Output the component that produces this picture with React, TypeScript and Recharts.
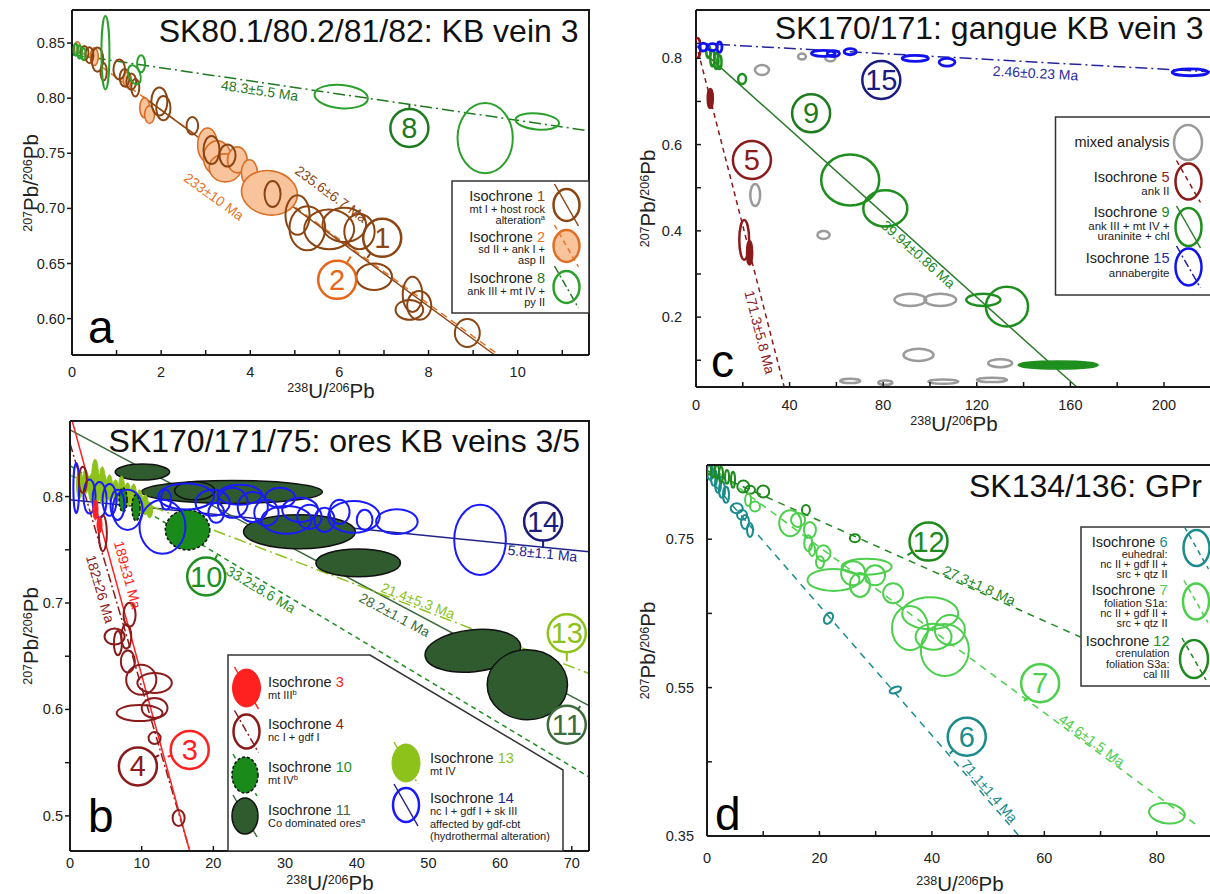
import React from 'react';
import { ScatterChart, Scatter, XAxis, YAxis, ReferenceLine, ReferenceDot } from 'recharts';

const FONT = '"Liberation Sans", Arial, Helvetica, sans-serif';
const INK = '#1a1a1a';

// decay constants (1/yr) and 238U/235U, used to put each isochrone's lower end on concordia
const L238 = 1.55125e-10;
const L235 = 9.8485e-10;
const U_RATIO = 137.818;

type Ell = [number, number, number, number, number?]; // x, y, half-width (x units), half-height (y units), tilt deg
type Iso = { n: number; y0: number; age: number; err: number; from?: number; to?: number };
type Tag = { n: number; at: number; off: number };
type Badge = { n: number; x: number; y: number; tick?: [number, number] };

// ---------- a: SK80.1/80.2/81/82 ----------
const aXTicks = [0, 1, 2, 3, 4, 5, 6, 7, 8, 9, 10, 11];
const aXLabels = [0, 2, 4, 6, 8, 10];
const aYTicks = [0.6, 0.65, 0.7, 0.75, 0.8, 0.85];

const aOrange2: Ell[] = [
  [0.12, 0.8457, 0.07, 0.0055], [0.5, 0.8376, 0.09, 0.008], [1.24, 0.8167, 0.09, 0.0073],
  [1.63, 0.7913, 0.11, 0.009], [1.74, 0.785, 0.11, 0.008], [3.04, 0.7576, 0.22, 0.0154],
  [3.26, 0.7459, 0.31, 0.0154], [3.44, 0.7368, 0.36, 0.0127], [3.71, 0.744, 0.22, 0.0118],
  [3.98, 0.7323, 0.18, 0.0118], [4.16, 0.7214, 0.22, 0.011], [4.43, 0.7141, 0.63, 0.02, 10],
];
const aBrown1: Ell[] = [
  [0.28, 0.841, 0.09, 0.0064], [0.39, 0.839, 0.09, 0.0073], [0.57, 0.835, 0.13, 0.011],
  [0.71, 0.824, 0.07, 0.008], [1.06, 0.826, 0.13, 0.009], [1.18, 0.8185, 0.11, 0.008],
  [1.33, 0.815, 0.11, 0.0073], [1.42, 0.8095, 0.09, 0.008], [1.96, 0.797, 0.18, 0.0127],
  [2.05, 0.791, 0.16, 0.011], [2.7, 0.775, 0.13, 0.008], [3.13, 0.753, 0.18, 0.0127],
  [3.49, 0.748, 0.18, 0.01], [4.5, 0.713, 0.18, 0.0118], [5.06, 0.694, 0.27, 0.018],
  [5.28, 0.682, 0.4, 0.02], [5.77, 0.681, 0.56, 0.018], [6.11, 0.685, 0.49, 0.0155],
  [6.45, 0.679, 0.34, 0.016], [6.78, 0.638, 0.4, 0.012], [7.64, 0.622, 0.22, 0.016],
  [7.79, 0.612, 0.27, 0.013], [7.57, 0.608, 0.31, 0.009], [8.87, 0.587, 0.28, 0.0127],
];
const aGreen8: Ell[] = [
  [0.08, 0.844, 0.045, 0.0055], [0.17, 0.842, 0.045, 0.006], [0.26, 0.84, 0.045, 0.0055],
  [0.75, 0.8412, 0.09, 0.0333], [1.4, 0.8212, 0.13, 0.009, -20], [1.55, 0.8312, 0.09, 0.0077],
  [6.04, 0.8015, 0.6, 0.0106, 5], [9.27, 0.7638, 0.62, 0.0318], [10.44, 0.7789, 0.49, 0.0073, 5],
];
const aIsos: Iso[] = [
  { n: 2, y0: 0.848, age: 233, err: 10 },
  { n: 1, y0: 0.8487, age: 235.6, err: 6.7, from: 1.6 },
  { n: 8, y0: 0.8395, age: 48.3, err: 5.5 },
];
const aTags: Tag[] = [
  { n: 8, at: 4.24, off: 8 },
  { n: 1, at: 5.38, off: -33 },
  { n: 2, at: 3.7, off: 39 },
];
const aBadges: Badge[] = [
  { n: 8, x: 7.57, y: 0.7729, tick: [-90, 5] },
  { n: 1, x: 6.96, y: 0.6733, tick: [127, 6] },
  { n: 2, x: 5.95, y: 0.6352, tick: [-60, 8] },
];

// ---------- c: SK170/171 gangue ----------
const cXTicks = [0, 20, 40, 60, 80, 100, 120, 140, 160, 180, 200, 220];
const cXLabels = [0, 40, 80, 120, 160, 200];
const cYTicks = [0.1, 0.2, 0.3, 0.4, 0.5, 0.6, 0.7, 0.8];
const cYLabels = [0.2, 0.4, 0.6, 0.8];

const cMixed: Ell[] = [
  [28.2, 0.773, 3.0, 0.0116], [45.3, 0.804, 1.7, 0.007], [57.4, 0.8, 2.1, 0.007],
  [25.3, 0.483, 2.1, 0.0255], [54.5, 0.3905, 2.6, 0.0093], [91.6, 0.24, 6.8, 0.014],
  [104.4, 0.24, 6.8, 0.014], [95.1, 0.1124, 6.4, 0.014], [130, 0.0932, 5.1, 0.0093],
  [105.7, 0.0505, 6.4, 0.005], [126.5, 0.0545, 6.4, 0.005], [65.9, 0.052, 4.3, 0.005],
  [80.9, 0.048, 3.0, 0.005],
];
const cRed5: Ell[] = [[0.6, 0.824, 1.3, 0.023], [20.6, 0.379, 2.1, 0.046]];
const cRed5Solid: Ell[] = [[6.1, 0.707, 1.3, 0.023], [22.9, 0.349, 1.3, 0.028]];
const cGreen9: Ell[] = [
  [5.3, 0.815, 0.9, 0.014], [7.0, 0.8, 0.9, 0.019], [8.7, 0.794, 0.9, 0.019],
  [10.0, 0.791, 0.9, 0.016], [19.7, 0.752, 1.7, 0.0116], [65.9, 0.518, 12.4, 0.059],
  [80.9, 0.452, 9.4, 0.042], [122.8, 0.24, 7.3, 0.014], [132.9, 0.2243, 9.0, 0.046],
];
const cGreen9Solid: Ell[] = [[154.8, 0.0892, 17.1, 0.0093]];
const cBlue15: Ell[] = [
  [3.1, 0.826, 1.7, 0.009], [7.0, 0.826, 2.1, 0.008], [10.0, 0.826, 1.1, 0.012],
  [54.4, 0.8116, 5.1, 0.007], [58.7, 0.811, 2.6, 0.007], [65.9, 0.8153, 2.6, 0.007],
  [93.7, 0.8, 5.6, 0.007], [107.3, 0.7907, 3.4, 0.009], [211.2, 0.7676, 7.7, 0.008],
];
const cIsos: Iso[] = [
  { n: 15, y0: 0.835, age: 2.46, err: 0.23 },
  { n: 9, y0: 0.83, age: 39.94, err: 0.86, from: 5 },
  { n: 5, y0: 0.835, age: 171.3, err: 5.8 },
];
const cTags: Tag[] = [
  { n: 15, at: 145.4, off: 11 },
  { n: 9, at: 97, off: 7 },
  { n: 5, at: 31.4, off: 10 },
];
const cBadges: Badge[] = [
  { n: 15, x: 79.2, y: 0.7497 },
  { n: 9, x: 49.2, y: 0.6725 },
  { n: 5, x: 23.9, y: 0.5643 },
];

// ---------- b: SK170/171/75 ores ----------
const bXTicks = [0, 10, 20, 30, 40, 50, 60, 70];
const bYTicks = [0.5, 0.55, 0.6, 0.65, 0.7, 0.75, 0.8];
const bYLabels = [0.5, 0.6, 0.7, 0.8];

const bDark11: Ell[] = [
  [10.1, 0.823, 3.8, 0.0075], [22.6, 0.8044, 12.6, 0.0108], [17.4, 0.8054, 2.8, 0.0085],
  [32.0, 0.7669, 7.8, 0.016], [40.2, 0.7377, 5.9, 0.0131], [56.2, 0.6551, 6.7, 0.0197, -6],
  [63.8, 0.6232, 5.6, 0.0329],
];
const bLime13: Ell[] = [
  [1.33, 0.811, 0.42, 0.013], [2.16, 0.8138, 0.42, 0.0113], [3.0, 0.8082, 0.42, 0.013],
  [3.5, 0.815, 0.5, 0.02], [3.84, 0.8063, 0.42, 0.0113], [4.5, 0.81, 0.45, 0.018],
  [4.68, 0.812, 0.42, 0.0094], [5.52, 0.8082, 0.42, 0.0122], [6.35, 0.8044, 0.42, 0.0113],
  [7.19, 0.8063, 0.42, 0.013], [8.03, 0.8016, 0.42, 0.0113], [8.87, 0.7988, 0.42, 0.013],
  [9.71, 0.795, 0.42, 0.0113], [10.5, 0.7922, 0.42, 0.0094], [11.1, 0.7875, 0.42, 0.0075],
];
const bGreen10: Ell[] = [[16.4, 0.7687, 3.1, 0.0188], [9.2, 0.7894, 0.56, 0.0122], [7.4, 0.7969, 0.56, 0.0113]];
const bBlue14: Ell[] = [
  [0.87, 0.808, 0.4, 0.0235], [2.72, 0.8, 0.84, 0.016], [4.12, 0.7969, 0.98, 0.0169],
  [5.52, 0.7969, 0.98, 0.015], [6.63, 0.7922, 0.98, 0.0141], [8.03, 0.7875, 2.1, 0.0188],
  [12.9, 0.7716, 3.2, 0.0254], [13.4, 0.7969, 0.7, 0.0094], [16.2, 0.8, 3.9, 0.0122],
  [19.9, 0.7941, 2.4, 0.0122], [22.7, 0.7941, 2.1, 0.0141], [20.4, 0.7847, 1.1, 0.0094],
  [25.5, 0.7903, 2.1, 0.0141], [27.4, 0.7847, 1.7, 0.0122], [30.2, 0.7781, 3.5, 0.0131],
  [33.4, 0.7809, 1.7, 0.0113], [35.5, 0.7781, 1.4, 0.0113], [39.6, 0.7809, 3.6, 0.015],
  [45.6, 0.7765, 2.9, 0.0117], [57.2, 0.7593, 3.6, 0.0329], [23.7, 0.8016, 3.1, 0.0094],
  [29.3, 0.7988, 2.1, 0.0094], [32.1, 0.7875, 2.5, 0.0113], [37.6, 0.7856, 1.4, 0.0113],
  [41.1, 0.7781, 1.1, 0.0094],
];
const bRed4: Ell[] = [
  [1.79, 0.8157, 0.56, 0.0122], [4.58, 0.7656, 0.56, 0.0169], [8.31, 0.6889, 0.84, 0.0113],
  [6.22, 0.6685, 1.4, 0.0075], [6.68, 0.6623, 0.56, 0.0113], [7.85, 0.6685, 0.7, 0.0113],
  [8.07, 0.6451, 0.98, 0.0103], [9.94, 0.6279, 2.1, 0.0141], [11.8, 0.6248, 2.4, 0.0094],
  [11.8, 0.6013, 1.8, 0.0094], [9.71, 0.5966, 3.2, 0.0075], [11.8, 0.5731, 0.84, 0.0056],
  [15.15, 0.498, 0.84, 0.0075],
];
const bRed3: Ell[] = [[3.56, 0.7875, 0.35, 0.0094], [4.12, 0.7734, 0.35, 0.0075]];
const bIsos: Iso[] = [
  { n: 14, y0: 0.797, age: 5.8, err: 1.1 },
  { n: 11, y0: 0.8626, age: 28.2, err: 1.1 },
  { n: 13, y0: 0.82, age: 21.4, err: 5.3 },
  { n: 10, y0: 0.829, age: 33.2, err: 8.6 },
  { n: 4, y0: 0.85, age: 182, err: 26 },
  { n: 3, y0: 0.8786, age: 189, err: 31 },
];
const bTags: Tag[] = [
  { n: 3, at: 6.3, off: -13 },
  { n: 4, at: 5.83, off: 12 },
  { n: 10, at: 27.2, off: 8 },
  { n: 11, at: 46, off: 11 },
  { n: 13, at: 48.2, off: -7 },
  { n: 14, at: 66, off: 6 },
];
const bBadges: Badge[] = [
  { n: 10, x: 19.0, y: 0.7249, tick: [-63, 5] },
  { n: 14, x: 66.0, y: 0.7765, tick: [90, 7] },
  { n: 13, x: 69.3, y: 0.6717, tick: [90, 9] },
  { n: 11, x: 69.3, y: 0.5856, tick: [-54, 4] },
  { n: 4, x: 9.47, y: 0.5465, tick: [-28, 5] },
  { n: 3, x: 16.7, y: 0.562, tick: [163, 4] },
];

// ---------- d: SK134/136 GPr ----------
const dXTicks = [0, 10, 20, 30, 40, 50, 60, 70, 80, 90];
const dXLabels = [0, 20, 40, 60, 80];
const dYTicks = [0.35, 0.45, 0.55, 0.65, 0.75];
const dYLabels = [0.35, 0.55, 0.75];

const dTeal6: Ell[] = [
  [0.53, 0.8408, 0.53, 0.0108], [1.25, 0.8327, 0.53, 0.0108], [1.96, 0.8246, 0.53, 0.012],
  [2.67, 0.8165, 0.53, 0.0108], [3.38, 0.8098, 0.53, 0.0108], [5.28, 0.7918, 1.07, 0.0067],
  [6.23, 0.7828, 0.89, 0.0067], [6.76, 0.7733, 0.71, 0.0094], [7.65, 0.7625, 0.53, 0.0094],
  [21.6, 0.6435, 0.71, 0.0081, 30], [33.5, 0.5468, 1.07, 0.004, -20],
];
const dGreen12: Ell[] = [
  [0.36, 0.8462, 0.36, 0.0094], [1.07, 0.8435, 0.36, 0.0108], [1.78, 0.8408, 0.36, 0.0094],
  [2.49, 0.8367, 0.36, 0.0108], [3.56, 0.834, 0.36, 0.0094], [4.63, 0.83, 0.36, 0.0108],
  [6.46, 0.8209, 1.07, 0.0081], [7.65, 0.8165, 0.89, 0.0054], [10.0, 0.8142, 1.07, 0.0081],
  [17.6, 0.7895, 0.71, 0.0067], [26.3, 0.7513, 0.89, 0.0054],
];
const dLight7: Ell[] = [
  [7.3, 0.803, 0.53, 0.0081], [8.54, 0.794, 0.89, 0.0067], [14.8, 0.7716, 1.96, 0.0175],
  [16.2, 0.776, 1.25, 0.0094], [18.3, 0.7625, 1.07, 0.0108], [18.0, 0.7446, 0.71, 0.0108],
  [18.7, 0.7356, 0.53, 0.0081], [20.7, 0.7311, 1.25, 0.0108], [20.1, 0.719, 0.71, 0.0081],
  [28.4, 0.713, 4.45, 0.0108], [22.5, 0.6951, 4.63, 0.0148], [26.0, 0.7041, 2.14, 0.0162],
  [29.9, 0.7014, 1.78, 0.0135], [27.2, 0.6884, 1.78, 0.0162], [33.1, 0.6772, 1.78, 0.0135],
  [39.7, 0.65, 4.98, 0.0216], [40.3, 0.6186, 3.2, 0.0175], [42.3, 0.6007, 4.27, 0.0351],
  [36.1, 0.6304, 3.2, 0.0297], [43.2, 0.6277, 2.67, 0.0202], [81.8, 0.3805, 3.2, 0.0135, 8],
];
const dIsos: Iso[] = [
  { n: 12, y0: 0.8425, age: 27.3, err: 1.8, to: 66.4 },
  { n: 7, y0: 0.851, age: 44.6, err: 1.5, to: 87.4 },
  { n: 6, y0: 0.835, age: 71.1, err: 1.4 },
];
const dTags: Tag[] = [
  { n: 12, at: 48, off: -6 },
  { n: 7, at: 67.8, off: -6 },
  { n: 6, at: 49.3, off: -7 },
];
const dBadges: Badge[] = [
  { n: 12, x: 39.4, y: 0.7468, tick: [147, 6] },
  { n: 7, x: 59.25, y: 0.5558, tick: [132, 5] },
  { n: 6, x: 46.2, y: 0.4838, tick: [135, 5] },
];

// line / label / badge colours per isochrone number
const COL: Record<number, { line: string; dash?: string; text: string; badge: string }> = {
  1: { line: '#8b4513', text: '#8b4513', badge: '#8b4513' },
  2: { line: '#e8742a', dash: '7 5', text: '#e8742a', badge: '#e8661a' },
  8: { line: '#1f7a1f', dash: '12 4 2 4', text: '#1f7a1f', badge: '#1f7a1f' },
  5: { line: '#8b1a1a', dash: '5 4', text: '#8b1a1a', badge: '#8b1a1a' },
  9: { line: '#2a7a2a', text: '#1e8a1e', badge: '#1e7a1e' },
  15: { line: '#24249a', dash: '12 4 2 4', text: '#2b2ba0', badge: '#1a1a80' },
  3: { line: '#ff2020', text: '#ff2020', badge: '#ff2020' },
  4: { line: '#8b1a1a', dash: '9 3 2 3', text: '#8b1a1a', badge: '#8b1a1a' },
  10: { line: '#1f8f1f', dash: '5 4', text: '#1f8f1f', badge: '#1f8f1f' },
  11: { line: '#3d6b3d', text: '#3d6b3d', badge: '#3d6b3d' },
  13: { line: '#8cc21a', dash: '12 4 2 4', text: '#8cc21a', badge: '#8cc21a' },
  14: { line: '#22228c', text: '#22228c', badge: '#1c1c7c' },
  6: { line: '#1a8c8c', dash: '7 6', text: '#1a8c8c', badge: '#1a8c8c' },
  7: { line: '#4ccf4c', dash: '7 6', text: '#4ccf4c', badge: '#4ccf4c' },
  12: { line: '#1e8a1e', dash: '7 6', text: '#1e8a1e', badge: '#1e8a1e' },
};

type EllStyle = { stroke: string; fill?: string; sw?: number; dash?: string };

function concordia(ageMa: number) {
  const t = ageMa * 1e6;
  const e8 = Math.exp(L238 * t) - 1;
  const e5 = Math.exp(L235 * t) - 1;
  return { x: 1 / e8, y: e5 / (U_RATIO * e8) };
}

const toPts = (list: Ell[]) => list.map(([x, y, ex, ey, tilt = 0]) => ({ x, y, ex, ey, tilt }));

function EllipseMark({ cx, cy, payload, kx, ky, st }: any) {
  if (cx == null || cy == null) return null;
  return (
    <ellipse
      cx={cx}
      cy={cy}
      rx={payload.ex * kx}
      ry={payload.ey * ky}
      transform={payload.tilt ? `rotate(${payload.tilt} ${cx} ${cy})` : undefined}
      fill={st.fill || 'none'}
      stroke={st.stroke}
      strokeWidth={st.sw ?? 2}
      strokeDasharray={st.dash}
    />
  );
}

function XTick({ x, y, payload, major, dy }: any) {
  const v = payload.value;
  return (
    <g>
      <line x1={x} x2={x} y1={y} y2={y - 5} stroke={INK} strokeWidth={1.5} />
      {major.includes(v) && (
        <text x={x} y={y + dy} textAnchor="middle" fontSize={14.5} fontFamily={FONT} fill="#222">
          {v}
        </text>
      )}
    </g>
  );
}

function YTick({ x, y, payload, major, digits, out, gap }: any) {
  const v = payload.value;
  return (
    <g>
      <line x1={x} x2={out ? x - 5 : x + 5} y1={y} y2={y} stroke={INK} strokeWidth={1.5} />
      {major.includes(v) && (
        <text x={x - gap} y={y + 5} textAnchor="end" fontSize={14.5} fontFamily={FONT} fill="#222">
          {v.toFixed(digits)}
        </text>
      )}
    </g>
  );
}

function AgeTag({ cx, cy, ang, off, text, color }: any) {
  const r = (ang * Math.PI) / 180;
  const x = cx - Math.sin(r) * off;
  const y = cy + Math.cos(r) * off;
  return (
    <text x={x} y={y} transform={`rotate(${ang} ${x} ${y})`} textAnchor="middle" dominantBaseline="central"
      fontSize={14} fontFamily={FONT} fill={color}>
      {text}
    </text>
  );
}

function BadgeMark({ cx, cy, n, color, tick }: any) {
  const R = 19;
  let tl = null;
  if (tick) {
    const a = (tick[0] * Math.PI) / 180;
    tl = (
      <line x1={cx + R * Math.cos(a)} y1={cy + R * Math.sin(a)} x2={cx + (R + tick[1]) * Math.cos(a)}
        y2={cy + (R + tick[1]) * Math.sin(a)} stroke={color} strokeWidth={2} />
    );
  }
  return (
    <g>
      {tl}
      <circle cx={cx} cy={cy} r={R} fill="none" stroke={color} strokeWidth={2.5} />
      <text x={cx} y={cy + 10} textAnchor="middle" fontSize={29} fontFamily={FONT} fill={color}>{n}</text>
    </g>
  );
}

function Panel({ cfg }: { cfg: any }) {
  const { left, top, width, height, mt, mr, yw, xh, xDom, yDom } = cfg;
  const kx = (width - yw - mr) / (xDom[1] - xDom[0]);
  const ky = (height - mt - xh) / (yDom[1] - yDom[0]);

  const lines = cfg.isos.map((iso: Iso) => {
    const c = concordia(iso.age);
    const m = (c.y - iso.y0) / c.x;
    const xa = Math.max(iso.from ?? xDom[0], (yDom[1] - iso.y0) / m);
    const xb = Math.min(iso.to ?? xDom[1], xDom[1], (yDom[0] - iso.y0) / m);
    return { ...iso, m, xa, xb };
  });
  const lineOf = (n: number) => lines.find((l: any) => l.n === n);

  return (
    <div style={{ position: 'absolute', left, top }}>
      <ScatterChart width={width} height={height} margin={{ top: mt, right: mr, bottom: 0, left: 0 }}>
        <XAxis type="number" dataKey="x" domain={xDom} allowDataOverflow ticks={cfg.xTicks} interval={0}
          height={xh} tickSize={0} tickMargin={0} tickLine={false}
          axisLine={{ stroke: INK, strokeWidth: 2 }}
          tick={(t: any) => <XTick {...t} major={cfg.xMajor} dy={cfg.xDy} />} />
        <YAxis type="number" dataKey="y" domain={yDom} allowDataOverflow ticks={cfg.yTicks} interval={0}
          width={yw} tickSize={0} tickMargin={0} tickLine={false}
          axisLine={{ stroke: INK, strokeWidth: 2 }}
          tick={(t: any) => <YTick {...t} major={cfg.yMajor} digits={cfg.yDigits} out={cfg.yOut} gap={cfg.yGap} />} />
        {cfg.groups.map((g: { data: Ell[]; st: EllStyle }, i: number) => (
          <Scatter key={'g' + i} data={toPts(g.data)} isAnimationActive={false}
            shape={(s: any) => <EllipseMark {...s} kx={kx} ky={ky} st={g.st} />} />
        ))}
        {lines.map((l: any) => (
          <ReferenceLine key={'l' + l.n} ifOverflow="visible" stroke={COL[l.n].line} strokeWidth={1.5}
            strokeDasharray={COL[l.n].dash}
            segment={[{ x: l.xa, y: l.y0 + l.m * l.xa }, { x: l.xb, y: l.y0 + l.m * l.xb }]} />
        ))}
        {cfg.tags.map((t: Tag) => {
          const l = lineOf(t.n);
          const ang = (Math.atan((-l.m * ky) / kx) * 180) / Math.PI;
          return (
            <ReferenceDot key={'t' + t.n} x={t.at} y={l.y0 + l.m * t.at} r={1} ifOverflow="visible"
              shape={(d: any) => (
                <AgeTag cx={d.cx} cy={d.cy} ang={ang} off={t.off} text={`${l.age}±${l.err} Ma`} color={COL[t.n].text} />
              )} />
          );
        })}
        {cfg.badges.map((b: Badge) => (
          <ReferenceDot key={'b' + b.n} x={b.x} y={b.y} r={1} ifOverflow="visible"
            shape={(d: any) => <BadgeMark cx={d.cx} cy={d.cy} n={b.n} color={COL[b.n].badge} tick={b.tick} />} />
        ))}
      </ScatterChart>
    </div>
  );
}

const panelA = {
  left: 0, top: 0, width: 600, height: 400, mt: 10, mr: 11, yw: 72, xh: 45,
  xDom: [0, 11.6], yDom: [0.567, 0.88], xTicks: aXTicks, xMajor: aXLabels, xDy: 21.5,
  yTicks: aYTicks, yMajor: aYTicks, yDigits: 2, yOut: true, yGap: 7,
  groups: [
    { data: aOrange2, st: { stroke: '#dc6f25', fill: '#f9c39b', sw: 1.6 } },
    { data: aBrown1, st: { stroke: '#8b4513', sw: 2 } },
    { data: aGreen8, st: { stroke: '#2ca02c', sw: 2 } },
  ],
  isos: aIsos, tags: aTags, badges: aBadges,
};
const panelC = {
  left: 600, top: 0, width: 630, height: 440, mt: 10, mr: 8, yw: 96, xh: 53,
  xDom: [0, 224.8], yDom: [0.038, 0.912], xTicks: cXTicks, xMajor: cXLabels, xDy: 22.5,
  yTicks: cYTicks, yMajor: cYLabels, yDigits: 1, yOut: false, yGap: 14,
  groups: [
    { data: cMixed, st: { stroke: '#9a9a9a', sw: 2.5 } },
    { data: cRed5, st: { stroke: '#8b1a1a', sw: 2.5 } },
    { data: cRed5Solid, st: { stroke: '#8b1a1a', fill: '#8b1a1a', sw: 1.5 } },
    { data: cGreen9, st: { stroke: '#1e8f1e', sw: 2.5 } },
    { data: cGreen9Solid, st: { stroke: '#1e8f1e', fill: '#1e8f1e', sw: 1.5 } },
    { data: cBlue15, st: { stroke: '#1212ee', sw: 2.8 } },
  ],
  isos: cIsos, tags: cTags, badges: cBadges,
};
const panelB = {
  left: 0, top: 410, width: 600, height: 484, mt: 11, mr: 11, yw: 70, xh: 43,
  xDom: [0, 72.4], yDom: [0.467, 0.871], xTicks: bXTicks, xMajor: bXTicks, xDy: 16.5,
  yTicks: bYTicks, yMajor: bYLabels, yDigits: 1, yOut: true, yGap: 7,
  groups: [
    { data: bDark11, st: { stroke: '#111', fill: '#2f5b2f', sw: 1.5 } },
    { data: bLime13, st: { stroke: '#8cc21a', fill: '#8cc21a', sw: 1 } },
    { data: bGreen10, st: { stroke: '#111', fill: '#1a8a1a', sw: 1.5, dash: '3 2' } },
    { data: bBlue14, st: { stroke: '#1a1aff', sw: 2 } },
    { data: bRed4, st: { stroke: '#8b1a1a', sw: 2 } },
    { data: bRed3, st: { stroke: '#ff2020', fill: '#ff2020', sw: 1 } },
  ],
  isos: bIsos, tags: bTags, badges: bBadges,
};
const panelD = {
  left: 600, top: 455, width: 630, height: 439, mt: 10, mr: 8, yw: 107, xh: 58,
  xDom: [0, 91.6], yDom: [0.35, 0.85], xTicks: dXTicks, xMajor: dXLabels, xDy: 27,
  yTicks: dYTicks, yMajor: dYLabels, yDigits: 2, yOut: false, yGap: 13,
  groups: [
    { data: dTeal6, st: { stroke: '#1a8c8c', sw: 2 } },
    { data: dGreen12, st: { stroke: '#1e8a1e', sw: 2 } },
    { data: dLight7, st: { stroke: '#4ccf4c', sw: 2 } },
  ],
  isos: dIsos, tags: dTags, badges: dBadges,
};

// ---------- overlay pieces: titles, axis titles, legends ----------
function Txt({ x, y, s = 14.5, a = 'end', c = '#222', children }: any) {
  return <text x={x} y={y} fontSize={s} textAnchor={a} fill={c} fontFamily={FONT}>{children}</text>;
}

// small raised marker after a legend line (footnote letter)
const Sup = ({ t }: { t: string }) => <tspan fontSize={7.5} dy={-4}>{t}</tspan>;

function Ratio({ x, y, top, rot }: any) {
  return (
    <text x={0} y={0} transform={`translate(${x} ${y})${rot ? ' rotate(-90)' : ''}`} textAnchor="middle"
      fontFamily={FONT} fill="#222">
      <tspan fontSize={12.5} dy={-6.5}>{top}</tspan>
      <tspan fontSize={20.5} dy={6.5}>{top === '238' ? 'U/' : 'Pb/'}</tspan>
      <tspan fontSize={12.5} dy={-6.5}>206</tspan>
      <tspan fontSize={20.5} dy={6.5}>Pb</tspan>
    </text>
  );
}

function LegSym({ x, y, rx = 13, ry = 17, stroke, fill = 'none', sw = 2.5, dash, line, lineDash, lineOnTop }: any) {
  const ln = line ? (
    <line x1={x - 12} y1={y - 21} x2={x + 12} y2={y + 21} stroke={line} strokeWidth={1.5} strokeDasharray={lineDash} />
  ) : null;
  return (
    <g>
      {!lineOnTop && ln}
      <ellipse cx={x} cy={y} rx={rx} ry={ry} fill={fill} stroke={stroke} strokeWidth={sw} strokeDasharray={dash} />
      {lineOnTop && ln}
    </g>
  );
}

const Iso = ({ n }: { n: number }) => <tspan fill={COL[n].text}>{n}</tspan>;

function Overlay() {
  const frame = { fill: 'none', stroke: INK, strokeWidth: 2 };
  const box = { fill: '#fff', stroke: '#333', strokeWidth: 1.5 };
  return (
    <svg width={1210} height={894} style={{ position: 'absolute', left: 0, top: 0 }}>
      <path d="M72 10 H589 V355" {...frame} />
      <path d="M70 421 H589 V851" {...frame} />
      <path d="M696 10 H1210" {...frame} />
      <path d="M707 465 H1210" {...frame} />

      <Txt x={578.5} y={41.5} s={32} c="#111">SK80.1/80.2/81/82: KB vein 3</Txt>
      <Txt x={1203.5} y={38.5} s={32} c="#111">SK170/171: gangue KB vein 3</Txt>
      <Txt x={580} y={451.5} s={32} c="#111">SK170/171/75: ores KB veins 3/5</Txt>
      <Txt x={1202} y={496.5} s={32} c="#111">SK134/136: GPr</Txt>

      <Txt x={88} y={343} s={46} a="start" c="#000">a</Txt>
      <Txt x={88} y={832} s={46} a="start" c="#000">b</Txt>
      <Txt x={711} y={376.5} s={46} a="start" c="#000">c</Txt>
      <Txt x={715} y={830} s={46} a="start" c="#000">d</Txt>

      <Ratio x={331} y={398} top="238" />
      <Ratio x={954} y={431} top="238" />
      <Ratio x={330} y={890} top="238" />
      <Ratio x={960} y={891} top="238" />
      <Ratio x={38} y={183} top="207" rot />
      <Ratio x={38} y={636} top="207" rot />
      <Ratio x={655} y={198.5} top="207" rot />
      <Ratio x={655} y={650.5} top="207" rot />

      {/* legend a */}
      <rect x={452} y={181} width={137} height={132} {...box} />
      <Txt x={545} y={201}>Isochrone <Iso n={1} /></Txt>
      <Txt x={545} y={212.5} s={11}>mt I + host rock</Txt>
      <Txt x={545} y={223.5} s={11}>alteration<Sup t="a" /></Txt>
      <Txt x={545} y={242}>Isochrone <Iso n={2} /></Txt>
      <Txt x={545} y={253} s={11}>sd II + ank I +</Txt>
      <Txt x={545} y={263.5} s={11}>asp II</Txt>
      <Txt x={545} y={283}>Isochrone <Iso n={8} /></Txt>
      <Txt x={545} y={295} s={11}>ank III + mt IV +</Txt>
      <Txt x={545} y={306} s={11}>py II</Txt>
      <LegSym x={566.5} y={205} ry={16} stroke="#8b4513" line="#8b4513" />
      <LegSym x={566.5} y={246} ry={16} fill="#f9c39b" stroke="#dc6f25" line="#e8742a" lineDash="5 4" lineOnTop />
      <LegSym x={566.5} y={287} ry={16} stroke="#2ca02c" line="#1f7a1f" lineDash="8 3 2 3" />

      {/* legend c */}
      <rect x={1055.5} y={117} width={170} height={178} {...box} />
      <Txt x={1169.5} y={146.5}>mixed analysis</Txt>
      <Txt x={1169.5} y={181.5}>Isochrone <Iso n={5} /></Txt>
      <Txt x={1169.5} y={195} s={11.5}>ank II</Txt>
      <Txt x={1169.5} y={216.5}>Isochrone <Iso n={9} /></Txt>
      <Txt x={1169.5} y={229.5} s={11.5}>ank III + mt IV +</Txt>
      <Txt x={1169.5} y={240} s={11.5}>uraninite + chl</Txt>
      <Txt x={1169.5} y={263}>Isochrone <Iso n={15} /></Txt>
      <Txt x={1169.5} y={276.5} s={11.5}>annabergite</Txt>
      <LegSym x={1188} y={142.5} rx={14} ry={17.5} stroke="#9a9a9a" />
      <LegSym x={1188.5} y={181.5} ry={18} stroke="#8b1a1a" line="#8b1a1a" lineDash="5 4" />
      <LegSym x={1188.5} y={227} ry={19} stroke="#1e8f1e" line="#2a7a2a" />
      <LegSym x={1188.5} y={267} ry={18.5} stroke="#1212ee" line="#24249a" lineDash="8 3 2 3" />

      {/* legend b */}
      <polygon points="228,851 228,655 370,655 563,770 563,851" {...box} />
      <Txt x={268} y={686.5} a="start">Isochrone <Iso n={3} /></Txt>
      <Txt x={268} y={699} s={11} a="start">mt III<Sup t="b" /></Txt>
      <Txt x={268} y={728.5} a="start">Isochrone <Iso n={4} /></Txt>
      <Txt x={268} y={741} s={11} a="start">nc I + gdf I</Txt>
      <Txt x={268} y={771.5} a="start">Isochrone <Iso n={10} /></Txt>
      <Txt x={268} y={784} s={11} a="start">mt IV<Sup t="b" /></Txt>
      <Txt x={268} y={814.5} a="start">Isochrone <Iso n={11} /></Txt>
      <Txt x={268} y={827} s={11} a="start">Co dominated ores<Sup t="a" /></Txt>
      <Txt x={430} y={762.5} a="start">Isochrone <Iso n={13} /></Txt>
      <Txt x={430} y={774.5} s={11} a="start">mt IV</Txt>
      <Txt x={430} y={803} a="start">Isochrone <Iso n={14} /></Txt>
      <Txt x={430} y={815} s={11} a="start">nc I + gdf I + sk III</Txt>
      <Txt x={430} y={827.5} s={11} a="start">affected by gdf-cbt</Txt>
      <Txt x={430} y={840} s={11} a="start">(hydrothermal alteration)</Txt>
      <LegSym x={246.5} y={688} rx={14} ry={19} fill="#ff2020" stroke="#ff2020" sw={1} line="#ff2020" />
      <LegSym x={246.5} y={731.5} ry={17} stroke="#8b1a1a" line="#8b1a1a" lineDash="8 3 2 3" lineOnTop />
      <LegSym x={245} y={775} ry={18} fill="#1a8a1a" stroke="#111" sw={1.5} dash="3 2" line="#1f8f1f" lineDash="5 4" />
      <LegSym x={245} y={816} ry={18} fill="#2f5b2f" stroke="#111" sw={1.5} line="#3d6b3d" />
      <LegSym x={406} y={763} rx={14} ry={19} fill="#8cc21a" stroke="#8cc21a" sw={1} line="#8cc21a" lineDash="8 3 2 3" />
      <LegSym x={406} y={805} ry={17} stroke="#1a1aff" line="#22228c" lineOnTop />

      {/* legend d */}
      <rect x={1081} y={527} width={140} height={159} {...box} />
      <Txt x={1167.5} y={546.5}>Isochrone <Iso n={6} /></Txt>
      <Txt x={1167.5} y={558} s={11}>euhedral:</Txt>
      <Txt x={1167.5} y={568} s={11}>nc II + gdf II +</Txt>
      <Txt x={1167.5} y={578} s={11}>src + qtz II</Txt>
      <Txt x={1167.5} y={595}>Isochrone <Iso n={7} /></Txt>
      <Txt x={1167.5} y={606.5} s={11}>foliation S1a:</Txt>
      <Txt x={1167.5} y={617} s={11}>nc II + gdf II +</Txt>
      <Txt x={1167.5} y={627} s={11}>src + qtz II</Txt>
      <Txt x={1169.5} y={646}>Isochrone <Iso n={12} /></Txt>
      <Txt x={1169.5} y={657} s={11}>crenulation</Txt>
      <Txt x={1169.5} y={667.5} s={11}>foliation S3a:</Txt>
      <Txt x={1169.5} y={678} s={11}>cal III</Txt>
      <LegSym x={1196.5} y={548} ry={18} stroke="#1a8c8c" line="#1a8c8c" lineDash="5 4" />
      <LegSym x={1196} y={601.5} ry={18} stroke="#4ccf4c" line="#4ccf4c" lineDash="5 4" />
      <LegSym x={1194} y={659} rx={14} ry={19} stroke="#1e8a1e" line="#1e8a1e" lineDash="5 4" />
    </svg>
  );
}

export default function App() {
  return (
    <div style={{ position: 'absolute', left: 0, top: 0, width: 1210, height: 894, overflow: 'hidden', background: '#fff', fontFamily: FONT }}>
      <Panel cfg={panelA} />
      <Panel cfg={panelC} />
      <Panel cfg={panelB} />
      <Panel cfg={panelD} />
      <Overlay />
    </div>
  );
}
